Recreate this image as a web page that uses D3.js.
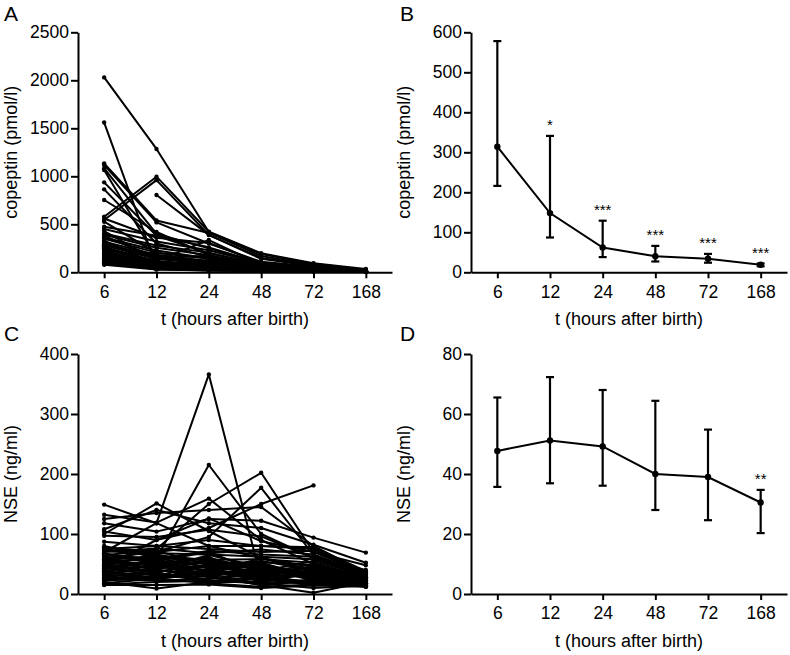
<!DOCTYPE html>
<html>
<head>
<meta charset="utf-8">
<script src="https://cdn.jsdelivr.net/npm/d3@7/dist/d3.min.js"></script>
<style>
  html, body { margin: 0; padding: 0; background: #fff; }
  svg { display: block; font-family: "Liberation Sans", Arial, sans-serif; }
</style>
</head>
<body>
<svg id="chart" width="790" height="655"></svg>
<script>
// ---------- DATA ----------
const times = ["6", "12", "24", "48", "72", "168"];

// Panel A: individual copeptin courses (pmol/l), values at 6,12,24,48,72,168 h
const copeptinIndividual = [
  [2030, 1285, 420, 190, 90, 25],
  [1560, 60, 40, 25, 20, 10],
  [1135, 540, 410, 170, 76, 24],
  [1118, 520, 300, 110, 60, 20],
  [1083, 400, 250, 90, 50, 18],
  [1066, 150, 90, 50, 30, 15],
  [937, 380, 200, 80, 40, 15],
  [864, 300, 160, 70, 35, 12],
  [753, 420, 180, 60, 30, 12],
  [545, 960, 388, 150, 70, 22],
  [579, 996, 423, 198, 94, 34],
  [null, 805, 390, 140, 65, 20],
  [527, 200, 150, 60, 30, 12],
  [560, 360, 305, 100, 55, 16],
  [475, 380, 260, 95, 50, 15],
  [452, 320, 230, 88, 45, 14],
  [430, 120, 336, 80, 40, 14],
  [405, 280, 205, 72, 42, 13],
  [392, 255, 178, 62, 35, 12],
  [378, 150, 172, 56, 31, 12],
  [362, 228, 145, 48, 30, 11],
  [348, 205, 142, 44, 28, 10],
  [330, 80, 128, 46, 26, 10],
  [318, 182, 118, 41, 25, 10],
  [305, 148, 112, 38, 25, 9],
  [292, 172, 98, 36, 22, 9],
  [281, 138, 92, 34, 23, 9],
  [272, 60, 84, 31, 20, 8],
  [262, 118, 79, 30, 21, 8],
  [251, 105, 76, 27, 18, 8],
  [243, 98, 69, 29, 18, 8],
  [232, 40, 64, 25, 17, 7],
  [221, 92, 58, 26, 17, 7],
  [212, 84, 56, 23, 16, 7],
  [203, 78, 51, 22, 16, 7],
  [192, 74, 47, 21, 15, 6],
  [183, 45, 44, 20, 15, 6],
  [172, 66, 42, 19, 14, 6],
  [161, 58, 40, 18, 14, 6],
  [152, 55, 37, 18, 13, 5],
  [141, 30, 35, 16, 13, 5],
  [133, 48, 32, 16, 12, 5],
  [121, 46, 30, 15, 12, 5],
  [112, 42, 27, 15, 11, 5],
  [103, 39, 25, 14, 11, 4],
  [94, 36, 22, 13, 10, 4],
  [86, 34, 20, 12, 10, 4],
  [78, 30, 18, 12, 9, 4]
];

// Panel B: copeptin median with interquartile range
const copeptinMedian = [314, 148, 62, 40, 34, 19];
const copeptinLow    = [216, 87, 38, 27, 24, 15];
const copeptinHigh   = [578, 341, 129, 66, 46, 22];
const copeptinSig    = ["", "*", "***", "***", "***", "***"];

// Panel C: individual NSE courses (ng/ml)
const nseIndividual = [
  [70, 118, 366, 25, 20, 18],
  [80, 60, 215, 100, 60, 30],
  [55, 75, 150, 202, 70, 35],
  [60, 70, 95, 177, 65, 30],
  [45, 90, 110, 150, 181, null],
  [149, 118, 80, 60, 40, 25],
  [100, 151, 105, 60, 45, 30],
  [125, 135, 140, 145, 80, 35],
  [132, 119, 159, 90, 50, 28],
  [118, 104, 125, 122, 94, 69],
  [108, 140, 118, 110, 82, 52],
  [104, 90, 126, 88, 70, 48],
  [97, 95, 107, 96, 60, 40],
  [87, 80, 90, 80, 78, 38],
  [78, 70, 80, 80, 75, 35],
  [75, 80, 75, 70, 72, 36],
  [74, 68, 66, 62, 58, 32],
  [70, 76, 68, 74, 66, 34],
  [72, 65, 55, 45, 35, 30],
  [68, 50, 60, 40, 30, 25],
  [65, 72, 48, 55, 40, 28],
  [62, 55, 70, 35, 50, 22],
  [60, 45, 40, 50, 30, 20],
  [58, 62, 52, 30, 45, 26],
  [56, 40, 65, 45, 28, 18],
  [54, 58, 35, 60, 38, 24],
  [52, 48, 45, 38, 55, 30],
  [50, 35, 58, 42, 25, 20],
  [48, 66, 42, 28, 35, 22],
  [46, 52, 38, 48, 30, 16],
  [45, 30, 50, 35, 42, 25],
  [44, 44, 62, 25, 20, 18],
  [42, 56, 30, 40, 32, 28],
  [40, 38, 46, 52, 28, 20],
  [39, 25, 35, 30, 40, 15],
  [38, 48, 28, 45, 22, 24],
  [36, 60, 44, 20, 35, 18],
  [35, 33, 25, 38, 30, 20],
  [34, 42, 55, 32, 18, 14],
  [32, 28, 40, 22, 38, 22],
  [31, 50, 32, 45, 26, 17],
  [30, 36, 22, 28, 20, 15],
  [28, 25, 48, 35, 33, 25],
  [27, 40, 30, 18, 24, 13],
  [26, 30, 36, 26, 15, 19],
  [25, 22, 26, 32, 28, 16],
  [24, 35, 20, 20, 18, 14],
  [22, 28, 30, 15, 22, 12],
  [20, 9, 20, 25, 20, 15],
  [18, 26, 18, 12, 16, 13],
  [16, 20, 22, 18, 10, 14],
  [15, 15, 16, 10, 14, 12],
  [60, 40, 30, 15, 2, 20],
  [66, 58, 72, 66, 62, 33],
  [57, 63, 57, 58, 52, 27],
  [49, 54, 50, 53, 48, 23],
  [43, 46, 44, 36, 45, 21]
];

// Panel D: NSE median with interquartile range
const nseMedian = [47.7, 51.2, 49.2, 40.0, 39.0, 30.5];
const nseLow    = [35.7, 36.9, 36.1, 28.0, 24.6, 20.3];
const nseHigh   = [65.5, 72.3, 68.0, 64.4, 54.8, 34.7];
const nseSig    = ["", "", "", "", "", "**"];

const copeptinTicks = [0, 500, 1000, 1500, 2000, 2500];
const copeptinSummaryTicks = [0, 100, 200, 300, 400, 500, 600];
const nseTicks = [0, 100, 200, 300, 400];
const nseSummaryTicks = [0, 20, 40, 60, 80];

const xTitle = "t (hours after birth)";

// ---------- DRAW ----------
const svg = d3.select("#chart");

function makeFrame(p) {
  const x = d3.scalePoint().domain(times).range([p.x0, p.x1]).padding(0.5);
  const y = d3.scaleLinear().domain([0, p.yMax]).range([p.yBot, p.yTop]);
  const g = svg.append("g");

  const xa = g.append("g").attr("transform", `translate(0,${p.yBot})`)
    .call(d3.axisBottom(x).tickSize(6).tickSizeOuter(0).tickPadding(7));
  const ya = g.append("g").attr("transform", `translate(${p.x0},0)`)
    .call(d3.axisLeft(y).tickValues(p.ticks).tickSize(7).tickSizeOuter(0).tickPadding(2).tickFormat(d3.format("d")));
  [xa, ya].forEach(a => {
    a.select(".domain").attr("stroke", "#000").attr("stroke-width", 2);
    a.selectAll(".tick line").attr("stroke", "#000").attr("stroke-width", 2);
    a.selectAll(".tick text").attr("fill", "#000").style("font-size", "17.5px")
      .style("font-family", "'Liberation Sans', Arial, sans-serif");
  });

  g.append("text").attr("x", (p.x0 + p.x1) / 2).attr("y", p.yBot + 53)
    .attr("text-anchor", "middle").style("font-size", "18px").text(xTitle);
  g.append("text")
    .attr("transform", `translate(${p.x0 - 61},${(p.yTop + p.yBot) / 2}) rotate(-90)`)
    .attr("text-anchor", "middle").style("font-size", "18px").text(p.yTitle);
  g.append("text").attr("x", p.labelX).attr("y", p.labelY)
    .style("font-size", "21px").text(p.label);
  return { x, y, g };
}

function drawIndividual(p, data) {
  const { x, y, g } = makeFrame(p);
  const line = d3.line()
    .defined(d => d.v !== null)
    .x(d => x(d.t)).y(d => y(d.v));
  data.forEach(series => {
    const pts = series.map((v, i) => ({ t: times[i], v }));
    g.append("path").datum(pts).attr("d", line)
      .attr("fill", "none").attr("stroke", "#000").attr("stroke-width", 2)
      .attr("stroke-linejoin", "round");
    g.selectAll(null).data(pts.filter(d => d.v !== null)).enter().append("circle")
      .attr("cx", d => x(d.t)).attr("cy", d => y(d.v)).attr("r", 2.2).attr("fill", "#000");
  });
}

function drawSummary(p, med, lo, hi, sig) {
  const { x, y, g } = makeFrame(p);
  const pts = times.map((t, i) => ({ t, m: med[i], lo: lo[i], hi: hi[i], s: sig[i] }));
  g.append("path").datum(pts)
    .attr("d", d3.line().x(d => x(d.t)).y(d => y(d.m)))
    .attr("fill", "none").attr("stroke", "#000").attr("stroke-width", 2);
  const eb = g.selectAll(".eb").data(pts).enter().append("g");
  eb.append("line").attr("x1", d => x(d.t)).attr("x2", d => x(d.t))
    .attr("y1", d => y(d.lo)).attr("y2", d => y(d.hi)).attr("stroke", "#000").attr("stroke-width", 2.2);
  [ "lo", "hi" ].forEach(k => {
    eb.append("line").attr("x1", d => x(d.t) - 4).attr("x2", d => x(d.t) + 4)
      .attr("y1", d => y(d[k])).attr("y2", d => y(d[k])).attr("stroke", "#000").attr("stroke-width", 2.2);
  });
  eb.append("circle").attr("cx", d => x(d.t)).attr("cy", d => y(d.m)).attr("r", 3.2).attr("fill", "#000");
  eb.append("text").attr("x", d => x(d.t)).attr("y", d => y(d.hi) - 6)
    .attr("text-anchor", "middle").style("font-size", "15px").text(d => d.s);
}

drawIndividual({ x0: 78, x1: 392, yTop: 32.3, yBot: 272.3, yMax: 2500, ticks: copeptinTicks,
  yTitle: "copeptin (pmol/l)", label: "A", labelX: 4, labelY: 20.5 }, copeptinIndividual);
drawSummary({ x0: 471, x1: 787, yTop: 32.3, yBot: 272.3, yMax: 600, ticks: copeptinSummaryTicks,
  yTitle: "copeptin (pmol/l)", label: "B", labelX: 400, labelY: 20.5 },
  copeptinMedian, copeptinLow, copeptinHigh, copeptinSig);
drawIndividual({ x0: 78, x1: 392, yTop: 354, yBot: 594, yMax: 400, ticks: nseTicks,
  yTitle: "NSE (ng/ml)", label: "C", labelX: 4, labelY: 340.5 }, nseIndividual);
drawSummary({ x0: 471, x1: 787, yTop: 354, yBot: 594, yMax: 80, ticks: nseSummaryTicks,
  yTitle: "NSE (ng/ml)", label: "D", labelX: 400, labelY: 340.5 },
  nseMedian, nseLow, nseHigh, nseSig);
</script>
</body>
</html>
